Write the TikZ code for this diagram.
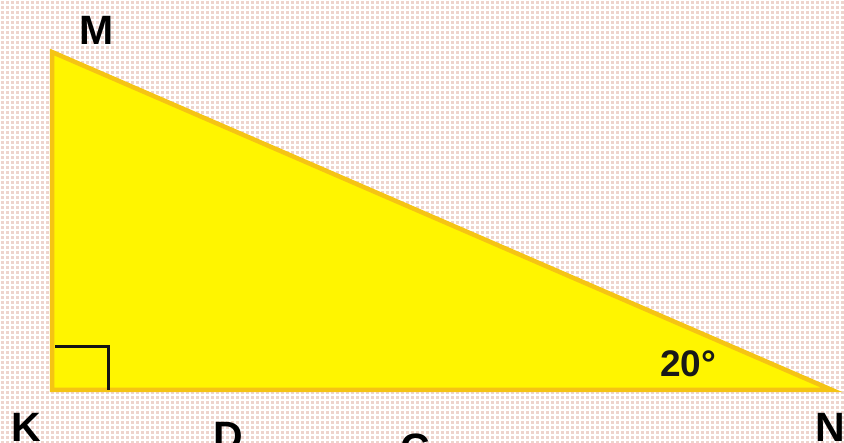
\documentclass[tikz,border=0pt]{standalone}
\usepackage{fontspec}
\setmainfont{Liberation Sans}
\definecolor{bgpink}{RGB}{238,212,205}
\definecolor{triyellow}{RGB}{255,245,0}
\definecolor{triedge}{RGB}{245,196,20}
\begin{document}
\begin{tikzpicture}[x=1pt,y=-1pt,
  lbl/.style={font=\fontsize{41}{41}\selectfont\bfseries, inner sep=0pt, text=black},
  anglbl/.style={font=\fontsize{37}{37}\selectfont\bfseries, inner sep=0pt, text=black!90},
  tri/.style={fill=triyellow, draw=triedge, line width=4.5pt, line join=miter},
  rightmark/.style={draw=black!92, line width=3pt},
  gridline/.style={draw=white, line width=1.3pt}]
\useasboundingbox (0,0) rectangle (844,443);
\clip (0,0) rectangle (844,443);
\fill[bgpink] (0,0) rectangle (844,443);
\foreach \i in {0,5,...,845} \draw[gridline] (\i,0) -- (\i,443);
\foreach \j in {0,5,...,445} \draw[gridline] (0,\j) -- (844,\j);
\coordinate (K) at (52,390);
\coordinate (M) at (52,52);
\coordinate (N) at (832,390);
\filldraw[tri] (K) -- (M) -- (N) -- cycle;
\coordinate (R1) at (55,347);
\coordinate (R2) at (108,347);
\coordinate (R3) at (108,390);
\draw[rightmark] (R1) -- (R2) -- (R3);
\node[lbl] (lM) at (97,30) {M};
\node[lbl] (lK) at (26,427) {K};
\node[lbl] (lN) at (830,427) {N};
\node[lbl] (lD) at (228,436) {D};
\node[lbl] (lC) at (415,448) {C};
\node[anglbl] (a20) at (688,364) {20°};
\end{tikzpicture}
\end{document}
